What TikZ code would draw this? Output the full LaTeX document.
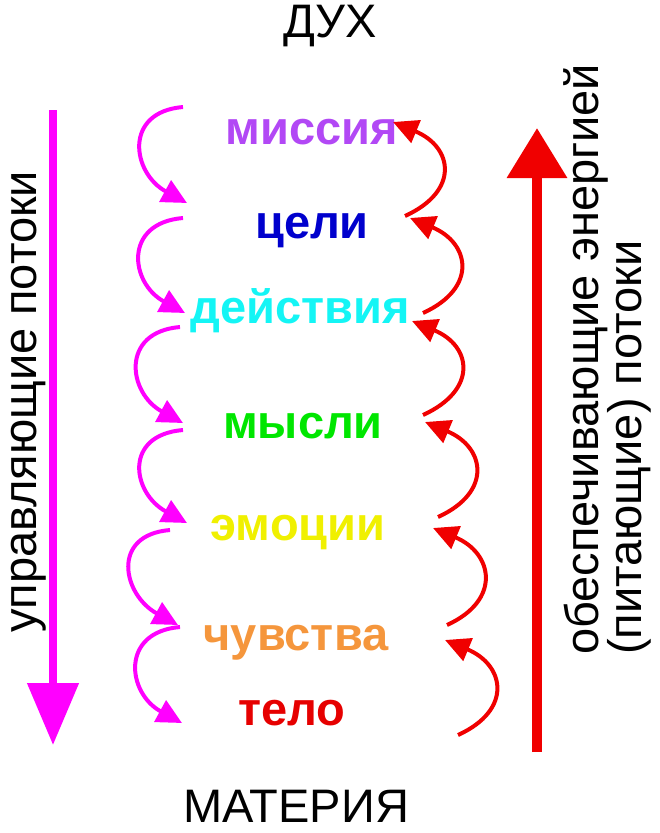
\documentclass[tikz,border=0pt]{standalone}
\usepackage{fontspec}
\setmainfont{Liberation Sans}
\usepackage{tikz}
\usetikzlibrary{arrows.meta, positioning}
\definecolor{flowmag}{RGB}{255,0,255}
\definecolor{flowred}{RGB}{240,0,0}
\definecolor{colmissia}{RGB}{178,72,245}
\definecolor{colceli}{RGB}{0,0,205}
\definecolor{coldeistv}{RGB}{20,245,245}
\definecolor{colmysli}{RGB}{0,230,0}
\definecolor{colemoc}{RGB}{240,240,0}
\definecolor{colchuv}{RGB}{245,150,60}
\definecolor{coltelo}{RGB}{230,0,0}

\begin{document}
\begin{tikzpicture}[x=1pt, y=-1pt,
	word/.style={font=\fontsize{47}{47}\selectfont\bfseries, anchor=base, inner sep=0pt},
	flowtext/.style={font=\fontsize{47}{47}\selectfont, inner sep=0pt},
	downflow/.style={flowmag, line width=4pt, -{Triangle[length=25pt, width=24pt]}},
	upflow/.style={flowred, line width=4pt, -{Triangle[length=25pt, width=24pt]}}]

\useasboundingbox (0,0) rectangle (659,833);

% top and bottom
\node[flowtext, anchor=base] (duh) at (330,37) {ДУХ};
\node[flowtext, anchor=base] (materia) at (296,822) {МАТЕРИЯ};

% levels
\node[word, colmissia] (missia) at (312,144) {миссия};
\node[word, colceli]   (celi)   at (312,238) {цели};
\node[word, coldeistv] (deistv) at (300,323) {действия};
\node[word, colmysli]  (mysli)  at (303,438) {мысли};
\node[word, colemoc]   (emoc)   at (298,540) {эмоции};
\node[word, colchuv]   (chuv)   at (296,650) {чувства};
\node[word, coltelo]   (telo)   at (292,725) {тело};

% big arrows
\coordinate (down top) at (53,110);
\coordinate (down bot) at (53,745);
\coordinate (up bot) at (537,752);
\coordinate (up top) at (537,128);
\draw[flowmag, line width=8pt, -{Triangle[length=62pt, width=50pt]}] (down top) -- (down bot);
\draw[flowred, line width=10pt, -{Triangle[length=50pt, width=58pt]}] (up bot) -- (up top);

\node[flowtext, rotate=90, anchor=base] (control) at (36,402) {управляющие потоки};
\node[flowtext, rotate=90, anchor=base west] (supply1) at (598,655) {обеспечивающие энергией};
\node[flowtext, rotate=90, anchor=base west] (supply2) at (641,655) {(питающие) потоки};

% small arrows, left side (down) and right side (up)
\foreach \i/\sx/\sy/\ex/\ey in {1/183/107/187/203, 2/183/218/185/313, 3/180/327/183/423,
	4/183/430/187/523, 5/170/530/178/625, 6/180/627/182/723} {
	\coordinate (ls\i) at (\sx,\sy);
	\coordinate (le\i) at (\ex,\ey);
}
\foreach \i/\sx/\sy/\ex/\ey in {1/405/216/393/122, 2/423/313/410/218, 3/423/415/412/321,
	4/438/517/425/422, 5/447/625/433/528, 6/458/735/445/640} {
	\coordinate (rs\i) at (\sx,\sy);
	\coordinate (re\i) at (\ex,\ey);
}

\foreach \i in {1,...,6} {
	\draw[downflow] (ls\i) .. controls +(-60,5) and +(-55,-30) .. (le\i);
	\draw[upflow] (rs\i) .. controls +(55,-25) and +(60,25) .. (re\i);
}

\end{tikzpicture}
\end{document}
